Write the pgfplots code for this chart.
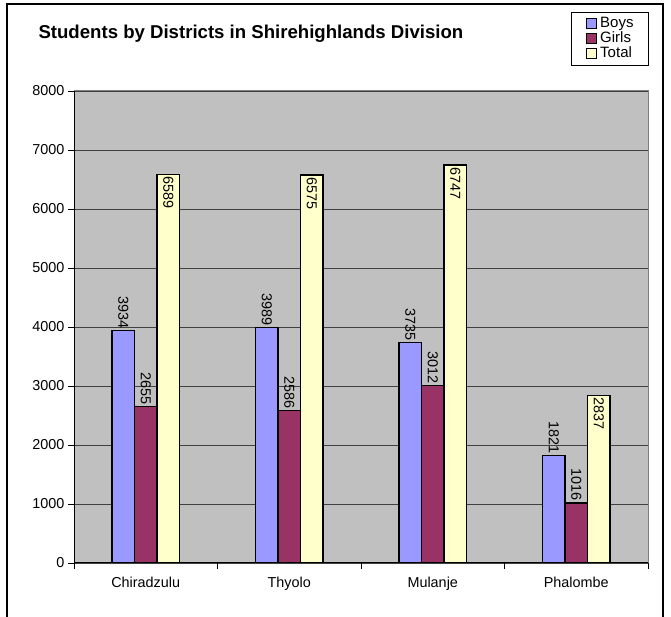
\documentclass[border=0pt]{standalone}
\usepackage{pgfplots}
\pgfplotsset{compat=1.18}
\usepackage{fontspec}
\setmainfont{Liberation Sans}
\definecolor{boys}{HTML}{9999FF}
\definecolor{girls}{HTML}{993366}
\definecolor{total}{HTML}{FFFFCC}
\definecolor{plotbg}{HTML}{C0C0C0}
\newcommand{\lblfont}{\fontsize{14.4}{16}\selectfont}
\begin{document}
\begin{tikzpicture}[x=1pt,y=1pt]
\useasboundingbox (0,0) rectangle (671,617);
\draw[line width=2pt] (7,0) -- (7,613) -- (663,613) -- (663,0);
\node[anchor=west, font=\fontsize{18.6}{20}\selectfont\bfseries] at (35,583) {Students by Districts in Shirehighlands Division};
\begin{axis}[
  at={(74pt,54pt)}, anchor=south west,
  scale only axis, width=574pt, height=472pt,
  ybar=0pt, bar width=22.5pt,
  xmin=-0.5, xmax=3.5, ymin=0, ymax=8000,
  axis lines*=left,
  axis line style={-, black, line width=1pt},
  axis background/.style={fill=plotbg, draw=gray, line width=1pt},
  xtick={-0.5,0.5,1.5,2.5,3.5}, xticklabels={},
  extra x ticks={0,1,2,3},
  extra x tick labels={Chiradzulu,Thyolo,Mulanje,Phalombe},
  extra x tick style={major tick length=0pt, grid=none, tick label style={yshift=-11pt}},
  ytick={0,1000,...,8000},
  ymajorgrids, grid style={black!75, line width=0.8pt},
  tick align=outside, major tick length=6pt,
  tick style={black, line width=0.8pt},
  tick label style={font=\lblfont},
  /pgf/number format/1000 sep={},
  /pgf/number format/assume math mode=true,
  every node near coord/.append style={font=\lblfont, rotate=-90, inner sep=1.5pt, black},
  legend style={at={(649pt-74pt,605pt-54pt)}, anchor=north east, at={(1.0017,1.1674)}, draw=black, line width=0.8pt, fill=white,
    font=\fontsize{15}{15}\selectfont, inner xsep=15pt, inner ysep=4pt, row sep=0pt, column sep=3pt,
    nodes={inner sep=0pt, text height=11pt, text depth=4pt}, cells={anchor=west}},
  legend image code/.code={\draw[#1, draw=black, line width=0.8pt] (0pt,-5pt) rectangle (10pt,5pt);},
  legend cell align=left,
]
\addplot[fill=boys, draw=black, line width=1.2pt, nodes near coords, every node near coord/.append style={anchor=east}] coordinates {(0,3934) (1,3989) (2,3735) (3,1821)};
\addplot[fill=girls, draw=black, line width=1.2pt, nodes near coords, every node near coord/.append style={anchor=east}] coordinates {(0,2655) (1,2586) (2,3012) (3,1016)};
\addplot[fill=total, draw=black, line width=1.2pt, nodes near coords, every node near coord/.append style={anchor=west}] coordinates {(0,6589) (1,6575) (2,6747) (3,2837)};
\legend{Boys,Girls,Total}
\end{axis}
\end{tikzpicture}
\end{document}
